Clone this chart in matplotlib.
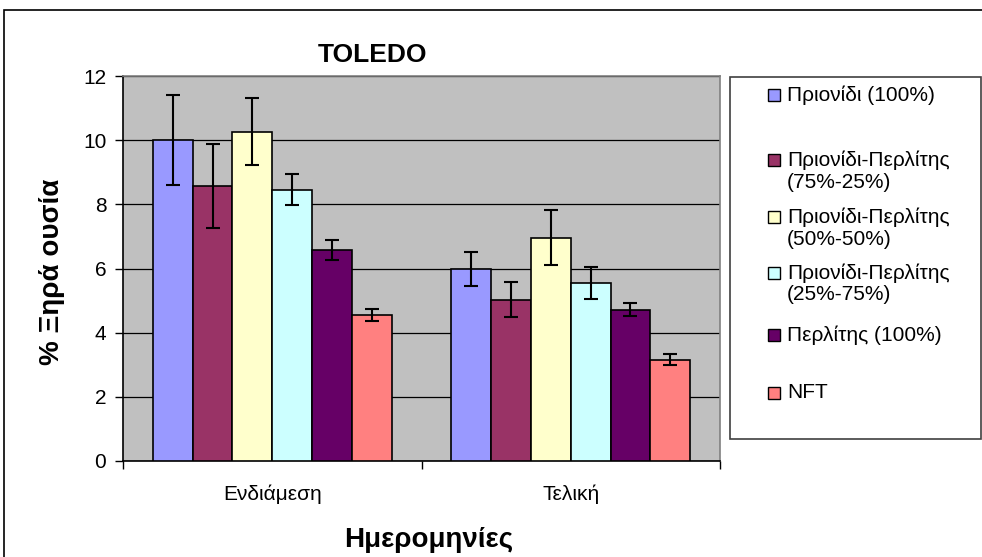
import numpy as np
import matplotlib
matplotlib.use('Agg')
import matplotlib.pyplot as plt
from matplotlib.patches import Rectangle

plt.rcParams['font.family'] = ['Liberation Sans', 'DejaVu Sans']

# data
dates = ['Ενδιάμεση', 'Τελική']
series = ['Πριονίδι (100%)',
          'Πριονίδι-Περλίτης\n(75%-25%)',
          'Πριονίδι-Περλίτης\n(50%-50%)',
          'Πριονίδι-Περλίτης\n(25%-75%)',
          'Περλίτης (100%)',
          'NFT']
values = [[10.0, 5.97],
          [8.57, 5.03],
          [10.27, 6.96],
          [8.46, 5.54],
          [6.58, 4.71],
          [4.54, 3.16]]
errors = [[1.40, 0.53],
          [1.30, 0.55],
          [1.04, 0.85],
          [0.47, 0.50],
          [0.30, 0.20],
          [0.19, 0.17]]
colors = ['#9999FF', '#993366', '#FFFFCC', '#CCFFFF', '#660066', '#FF8080']

W, H = 982, 557
fig = plt.figure(figsize=(W / 100, H / 100), dpi=100)

# plot area in pixels: x 123..720, y 76..461
ax = fig.add_axes([123 / W, 1 - 461 / H, (720 - 123) / W, (461 - 76) / H])
ax.set_facecolor('#C0C0C0')

x = np.arange(len(dates))
n = len(series)
bw = 0.8 / n
for i in range(n):
    pos = x - 0.4 + bw * (i + 0.5)
    ax.bar(pos, values[i], width=bw, color=colors[i], edgecolor='black',
           linewidth=1.2, zorder=3)
    ax.errorbar(pos, values[i], yerr=errors[i], fmt='none', ecolor='black',
                elinewidth=1.5, capsize=5, capthick=1.5, zorder=4)

ax.set_xlim(-0.5, len(dates) - 0.5)
ax.set_ylim(0, 12)
ax.set_yticks(np.arange(0, 13, 2))
ax.yaxis.grid(True, color='black', linewidth=0.9, zorder=1)
ax.set_axisbelow(True)

ax.set_xticks(np.arange(-0.5, len(dates), 1.0))
ax.set_xticklabels([])
ax.set_xticks(x, minor=True)
ax.set_xticklabels(dates, minor=True)
ax.tick_params(axis='x', which='major', length=6, width=1, direction='out')
ax.tick_params(axis='x', which='minor', length=0, pad=17, labelsize=15)
ax.tick_params(axis='y', length=6, width=1, direction='out', pad=6, labelsize=15)

for s in ['top', 'right']:
    ax.spines[s].set_color('#808080')
    ax.spines[s].set_linewidth(1.2)
for s in ['left', 'bottom']:
    ax.spines[s].set_color('black')
    ax.spines[s].set_linewidth(1.2)

fig.text(373 / W, 1 - 55 / H, 'TOLEDO', fontsize=19, fontweight='bold',
         ha='center', va='center')
fig.text(52 / W, 1 - 272 / H, '% Ξηρά ουσία', fontsize=20, fontweight='bold',
         ha='center', va='center', rotation=90)
fig.text(429 / W, 1 - 540 / H, 'Ημερομηνίες', fontsize=20, fontweight='bold',
         ha='center', va='center')

# outer chart border
fig.patches.append(Rectangle((4 / W, -0.02), 1.0, 1 - 10 / H + 0.02,
                             transform=fig.transFigure, fill=False,
                             edgecolor='black', linewidth=1.2))

# legend box, drawn by hand to keep Excel's uneven spacing
fig.patches.append(Rectangle((730 / W, 1 - 439 / H), (981 - 730) / W,
                             (439 - 77) / H, transform=fig.transFigure,
                             facecolor='white', edgecolor='#404040',
                             linewidth=1.2))
first_line_y = [95, 160, 217, 273, 335, 393]
line_h = 22
sq = 12
for i, lab in enumerate(series):
    y0 = first_line_y[i]
    fig.patches.append(Rectangle((768 / W, 1 - (y0 + sq / 2) / H), sq / W, sq / H,
                                 transform=fig.transFigure,
                                 facecolor=colors[i], edgecolor='black',
                                 linewidth=1))
    for j, line in enumerate(lab.split('\n')):
        fig.text(787 / W, 1 - (y0 + j * line_h) / H, line, fontsize=15,
                 ha='left', va='center')

fig.savefig('out.png', dpi=100)
